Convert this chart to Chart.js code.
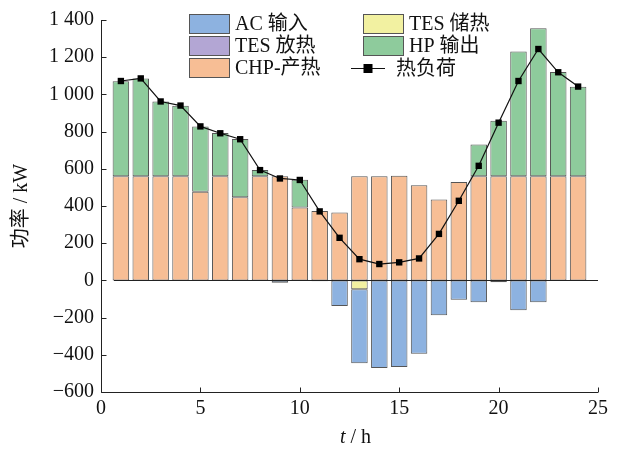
<!DOCTYPE html>
<html>
<head>
<meta charset="utf-8">
<script src="https://cdn.jsdelivr.net/npm/chart.js@4.4.1/dist/chart.umd.min.js"></script>
<style>
  html, body { margin: 0; padding: 0; background: #fff; }
  #wrap { width: 622px; height: 450px; position: relative; }
</style>
</head>
<body>
<div id="wrap"><canvas id="heatChart" width="622" height="450"></canvas></div>
<script>
// hours 1..24
const hours = [1, 2, 3, 4, 5, 6, 7, 8, 9, 10, 11, 12, 13, 14, 15, 16, 17, 18, 19, 20, 21, 22, 23, 24];

// kW values
const chpHeat = [560, 560, 560, 560, 477, 560, 447, 560, 560, 392, 373, 365, 560, 560, 562, 512, 435, 529, 560, 560, 560, 560, 560, 560];
const hpOut = [511, 526, 402, 379, 351, 232, 313, 33, 0, 149, 0, 0, 0, 0, 0, 0, 0, 0, 170, 298, 671, 795, 560, 481];
const tesRelease = [0, 0, 0, 0, 0, 0, 0, 0, 0, 0, 0, 0, 0, 0, 0, 0, 0, 0, 0, 0, 0, 0, 0, 0];
const tesStore = [0, 0, 0, 0, 0, 0, 0, 0, 0, 0, 0, 0, -48, 0, 0, 0, 0, 0, 0, 0, 0, 0, 0, 0];
const acInput = [0, 0, 0, 0, 0, 0, 0, 0, -12, 0, -5, -138, -398, -471, -466, -394, -188, -104, -117, -10, -161, -117, 0, 0];
const heatLoad = [1072, 1086, 962, 940, 828, 791, 759, 593, 548, 540, 371, 229, 114, 88, 97, 118, 250, 428, 616, 848, 1072, 1244, 1119, 1042];

const yTicks = [-600, -400, -200, 0, 200, 400, 600, 800, 1000, 1200, 1400];
const xTicks = [0, 5, 10, 15, 20, 25];

const FONT = '"Liberation Serif", "Times New Roman", "Noto Sans CJK SC", serif';
const FS = 20;
const EDGE = '#555555';

function pts(arr) {
    return hours.map((h, i) => ({ x: h, y: arr[i] }));
}

function barSet(label, arr, color) {
    return {
        type: 'bar',
        label: label,
        data: pts(arr),
        backgroundColor: color,
        borderColor: EDGE,
        borderWidth: 1,
        borderSkipped: false,
        stack: 'heat',
        barPercentage: 0.83,
        categoryPercentage: 1.0
    };
}

// stack order: CHP bottom, HP above; TES storage right under zero, AC below it
const datasets = [
    barSet('CHP-产热', chpHeat, '#F7BE95'),
    barSet('HP 输出', hpOut, '#8ECB9C'),
    barSet('TES 放热', tesRelease, '#B3A6D4'),
    barSet('TES 储热', tesStore, '#F2F1A1'),
    barSet('AC 输入', acInput, '#8DB2E0'),
    {
        type: 'line',
        label: '热负荷',
        data: pts(heatLoad),
        borderColor: '#111',
        borderWidth: 1.2,
        backgroundColor: '#000',
        pointStyle: 'rect',
        pointRadius: 4.5,
        pointBorderWidth: 0,
        tension: 0,
        stack: 'load',
        order: -1
    }
];

// legend layout: two columns, row-major
const legendRows = [
    ['AC 输入', 'TES 储热'],
    ['TES 放热', 'HP 输出'],
    ['CHP-产热', '热负荷']
];

const axisDecor = {
    id: 'axisDecor',
    afterDatasetsDraw(chart) {
        const ctx = chart.ctx;
        const xs = chart.scales.x, ys = chart.scales.y;
        ctx.save();
        // zero line
        const y0 = Math.round(ys.getPixelForValue(0)) + 0.5;
        ctx.strokeStyle = '#222';
        ctx.lineWidth = 1;
        ctx.beginPath();
        ctx.moveTo(xs.getPixelForValue(0.65), y0);
        ctx.lineTo(xs.getPixelForValue(25), y0);
        ctx.stroke();
        ctx.restore();
    },
    afterDraw(chart) {
        const ctx = chart.ctx;
        const xs = chart.scales.x, ys = chart.scales.y;
        const ax = Math.round(xs.left) + 0.5;
        const ay = Math.round(ys.bottom) + 0.5;
        ctx.save();
        ctx.strokeStyle = '#222';
        ctx.lineWidth = 1;
        ctx.beginPath();
        ctx.moveTo(ax, ys.top);
        ctx.lineTo(ax, ay);
        ctx.lineTo(xs.right, ay);
        yTicks.forEach(v => {
            const py = Math.round(ys.getPixelForValue(v)) + 0.5;
            ctx.moveTo(ax, py);
            ctx.lineTo(ax + 5, py);
        });
        xTicks.forEach(v => {
            const px = Math.round(xs.getPixelForValue(v)) + 0.5;
            ctx.moveTo(px, ay);
            ctx.lineTo(px, ay - 5);
        });
        ctx.stroke();

        // x title with italic t
        ctx.fillStyle = '#111';
        ctx.textBaseline = 'alphabetic';
        const cx = (xs.left + xs.right) / 2 + 6;
        const tFont = 'italic ' + FS + 'px ' + FONT;
        const rFont = FS + 'px ' + FONT;
        ctx.font = tFont;
        const wT = ctx.measureText('t').width;
        ctx.font = rFont;
        const wR = ctx.measureText(' / h').width;
        const sx = cx - (wT + wR) / 2;
        ctx.font = tFont;
        ctx.fillText('t', sx, 443);
        ctx.font = rFont;
        ctx.fillText(' / h', sx + wT, 443);

        // legend
        const byLabel = {};
        chart.data.datasets.forEach(d => { byLabel[d.label] = d; });
        const colX = [189, 363];
        const rowY = [14, 36, 58];
        ctx.font = FS + 'px ' + FONT;
        ctx.textBaseline = 'middle';
        legendRows.forEach((row, r) => {
            row.forEach((label, c) => {
                const d = byLabel[label];
                const x = colX[c], y = rowY[r];
                if (d.type === 'line') {
                    const cy = y + 10.5;
                    ctx.strokeStyle = '#111';
                    ctx.lineWidth = 1.2;
                    ctx.beginPath();
                    ctx.moveTo(x - 12, cy);
                    ctx.lineTo(x + 22, cy);
                    ctx.stroke();
                    ctx.fillStyle = '#000';
                    ctx.fillRect(x + 5 - 4.5, cy - 4.5, 9, 9);
                    ctx.fillStyle = '#111';
                    ctx.fillText(label, x + 33, cy + 1);
                } else {
                    ctx.fillStyle = d.backgroundColor;
                    ctx.fillRect(x, y, 40, 19);
                    ctx.strokeStyle = EDGE;
                    ctx.lineWidth = 1;
                    ctx.strokeRect(x + 0.5, y + 0.5, 40, 19);
                    ctx.fillStyle = '#111';
                    ctx.fillText(label, x + 46, y + 11);
                }
            });
        });
        ctx.restore();
    }
};

new Chart(document.getElementById('heatChart'), {
    data: { datasets: datasets },
    options: {
        responsive: false,
        animation: false,
        events: [],
        layout: { padding: { top: 20, right: 24, left: 0, bottom: 0 } },
        plugins: {
            legend: { display: false },
            tooltip: { enabled: false }
        },
        scales: {
            x: {
                type: 'linear',
                min: 0,
                max: 25,
                stacked: true,
                offset: false,
                grid: { display: false, drawTicks: false },
                border: { display: false },
                afterBuildTicks(scale) { scale.ticks = xTicks.map(v => ({ value: v })); },
                ticks: {
                    padding: 5,
                    color: '#111',
                    font: { family: FONT, size: FS }
                },
                title: { display: false },
                afterFit(scale) { scale.height = 58; }
            },
            y: {
                min: -600,
                max: 1400,
                stacked: true,
                grid: { display: false, drawTicks: false },
                border: { display: false },
                afterBuildTicks(scale) { scale.ticks = yTicks.map(v => ({ value: v })); },
                ticks: {
                    padding: 7,
                    color: '#111',
                    font: { family: FONT, size: FS },
                    callback: v => {
                        const s = Math.abs(v).toString().replace(/\B(?=(\d{3})+(?!\d))/g, ' ');
                        return (v < 0 ? '−' : '') + s;
                    }
                },
                title: {
                    display: true,
                    text: '功率 / kW',
                    color: '#111',
                    font: { family: FONT, size: FS },
                    padding: { top: 10, bottom: 0 }
                },
                afterFit(scale) { scale.width = 101; }
            }
        }
    },
    plugins: [axisDecor]
});
</script>
</body>
</html>
